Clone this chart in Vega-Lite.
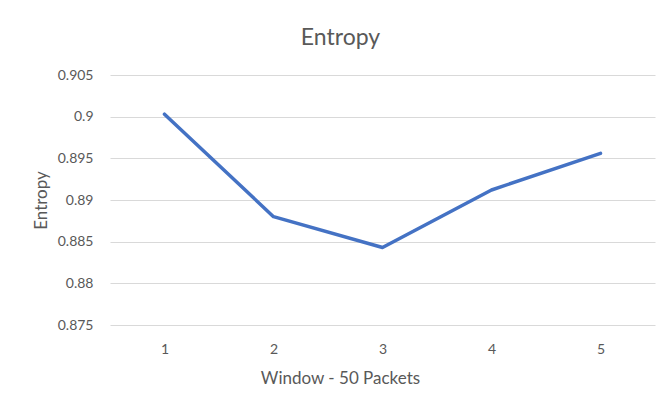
{
  "$schema": "https://vega.github.io/schema/vega-lite/v6.json",
  "width": 545,
  "height": 250,
  "autosize": {"type": "none"},
  "padding": {"left": 110, "top": 75, "right": 13, "bottom": 81},
  "background": "white",
  "title": {
    "text": "Entropy",
    "font": "Lato",
    "fontSize": 23,
    "fontWeight": "normal",
    "color": "#595959",
    "anchor": "middle",
    "dx": -42,
    "offset": 18
  },
  "data": {
    "values": [
      {"window": "1", "entropy": 0.9003},
      {"window": "2", "entropy": 0.8880},
      {"window": "3", "entropy": 0.8843},
      {"window": "4", "entropy": 0.8912},
      {"window": "5", "entropy": 0.8956}
    ]
  },
  "mark": {"type": "line", "color": "#4472C4", "strokeWidth": 3.5, "strokeCap": "round", "strokeJoin": "round"},
  "encoding": {
    "x": {
      "field": "window",
      "type": "ordinal",
      "scale": {"type": "point", "padding": 0.5},
      "axis": {
        "title": "Window - 50 Packets",
        "labelAngle": 0,
        "domain": false,
        "ticks": false,
        "grid": false,
        "labelPadding": 17,
        "labelFont": "Lato",
        "labelFontSize": 14,
        "labelColor": "#595959",
        "titleFont": "Lato",
        "titleFontSize": 17,
        "titleFontWeight": "normal",
        "titleColor": "#595959",
        "titleAnchor": null,
        "titleX": 230,
        "titleY": 53,
        "titleBaseline": "middle",
        "titleAlign": "center"
      }
    },
    "y": {
      "field": "entropy",
      "type": "quantitative",
      "scale": {"domain": [0.875, 0.905], "nice": false, "zero": false},
      "axis": {
        "title": "Entropy",
        "values": [0.875, 0.88, 0.885, 0.89, 0.895, 0.9, 0.905],
        "format": "~g",
        "domain": false,
        "ticks": false,
        "grid": true,
        "gridColor": "#D9D9D9",
        "gridWidth": 1.2,
        "labelPadding": 17,
        "labelFont": "Lato",
        "labelFontSize": 14,
        "labelColor": "#595959",
        "titleFont": "Lato",
        "titleFontSize": 17,
        "titleFontWeight": "normal",
        "titleColor": "#595959",
        "titleAnchor": null,
        "titleX": -69,
        "titleY": 125,
        "titleBaseline": "middle",
        "titleAlign": "center",
        "titleAngle": -90
      }
    }
  },
  "config": {"view": {"stroke": null}}
}
